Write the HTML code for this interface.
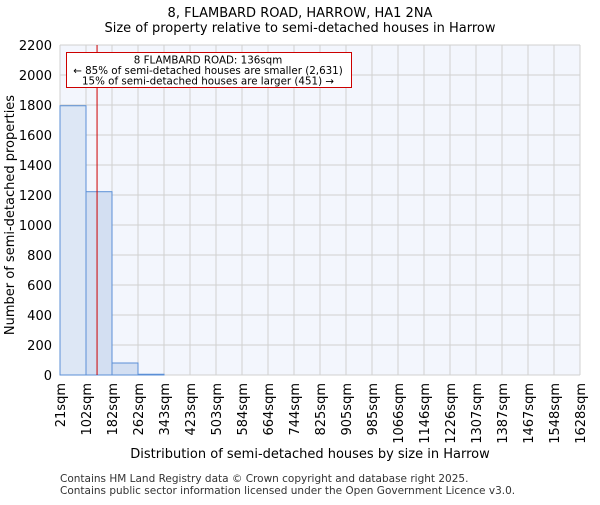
<!DOCTYPE html>
<html><head><meta charset="utf-8"><style>body{margin:0;background:#fff}svg{font-family:"DejaVu Sans","Liberation Sans",sans-serif}</style></head>
<body>
<svg width="600" height="500">
<text x="300" y="17" text-anchor="middle" font-size="13">8, FLAMBARD ROAD, HARROW, HA1 2NA</text>
<text x="300" y="32" text-anchor="middle" font-size="13">Size of property relative to semi-detached houses in Harrow</text>
<rect x="60" y="45" width="520" height="330" fill="#f3f6fd"/>
<g id="grid"></g><g id="bars"></g><g id="axes"></g>
<text transform="translate(14,215) rotate(-90)" text-anchor="middle" font-size="13">Number of semi-detached properties</text>
<text x="310" y="458" text-anchor="middle" font-size="13">Distribution of semi-detached houses by size in Harrow</text>
<text x="60" y="482" font-size="10.5" fill="#333">Contains HM Land Registry data © Crown copyright and database right 2025.</text>
<text x="60" y="494" font-size="10.5" fill="#333">Contains public sector information licensed under the Open Government Licence v3.0.</text>
</svg>
<script>
const labels=["21sqm","102sqm","182sqm","262sqm","343sqm","423sqm","503sqm","584sqm","664sqm","744sqm","825sqm","905sqm","985sqm","1066sqm","1146sqm","1226sqm","1307sqm","1387sqm","1467sqm","1548sqm","1628sqm"];
const edges=[21,102,182,262,343,423,503,584,664,744,825,905,985,1066,1146,1226,1307,1387,1467,1548,1628];
const counts=[1795,1222,80,5,0,0,0,0,0,0,0,0,0,0,0,0,0,0,0,0];
const yTicks=[0,200,400,600,800,1000,1200,1400,1600,1800,2000,2200];
const propSize=136;
const X0=60,X1=580,Y0=375,Y1=45,YMAX=2200;
const NS="http://www.w3.org/2000/svg";
const xb=i=>X0+i*(X1-X0)/counts.length;
const xv=v=>{let i=0;while(i<edges.length-2&&v>edges[i+1])i++;return xb(i)+(v-edges[i])/(edges[i+1]-edges[i])*(X1-X0)/counts.length;};
const y=v=>Y0-v/YMAX*(Y0-Y1);
function mk(t,a,p){const e=document.createElementNS(NS,t);for(const k in a)e.setAttribute(k,a[k]);p.appendChild(e);return e;}
const g=document.getElementById('grid'),b=document.getElementById('bars'),ax=document.getElementById('axes');
yTicks.forEach(v=>{const l=mk('line',{x1:X0,x2:X1,y1:y(v),y2:y(v),stroke:'#d0d0d0'},g);


const t=mk('text',{x:X0-8,y:y(v)+5,'text-anchor':'end','font-size':13},ax);t.textContent=v;

});
labels.forEach((s,i)=>{const l=mk('line',{x1:xb(i),x2:xb(i),y1:Y1,y2:Y0,stroke:'#d0d0d0'},g);


const t=mk('text',{transform:`translate(${xb(i)+5},383) rotate(-90)`,'text-anchor':'end','font-size':13},ax);t.textContent=s;

});
counts.forEach((c,i)=>{if(c<=0)return;const r=mk('rect',{x:xb(i),y:y(c),width:xb(i+1)-xb(i),height:Y0-y(c),fill:i==0?'#dde7f5':'#d3dff2',stroke:'#5b8fd6','stroke-width':1},b);

});
const pl=mk('line',{x1:xv(propSize),x2:xv(propSize),y1:Y1,y2:Y0,stroke:'#cc0000','stroke-width':1},b);


const bx=mk('rect',{x:66.5,y:52.5,width:285,height:35,fill:'#fff',stroke:'#cc0000'},b);


["8 FLAMBARD ROAD: 136sqm","← 85% of semi-detached houses are smaller (2,631)","15% of semi-detached houses are larger (451) →"].forEach((s,i)=>{const t=mk('text',{x:208,y:63.5+i*10.5,'text-anchor':'middle','font-size':10.3},b);t.textContent=s;

});
</script>
</body></html>
